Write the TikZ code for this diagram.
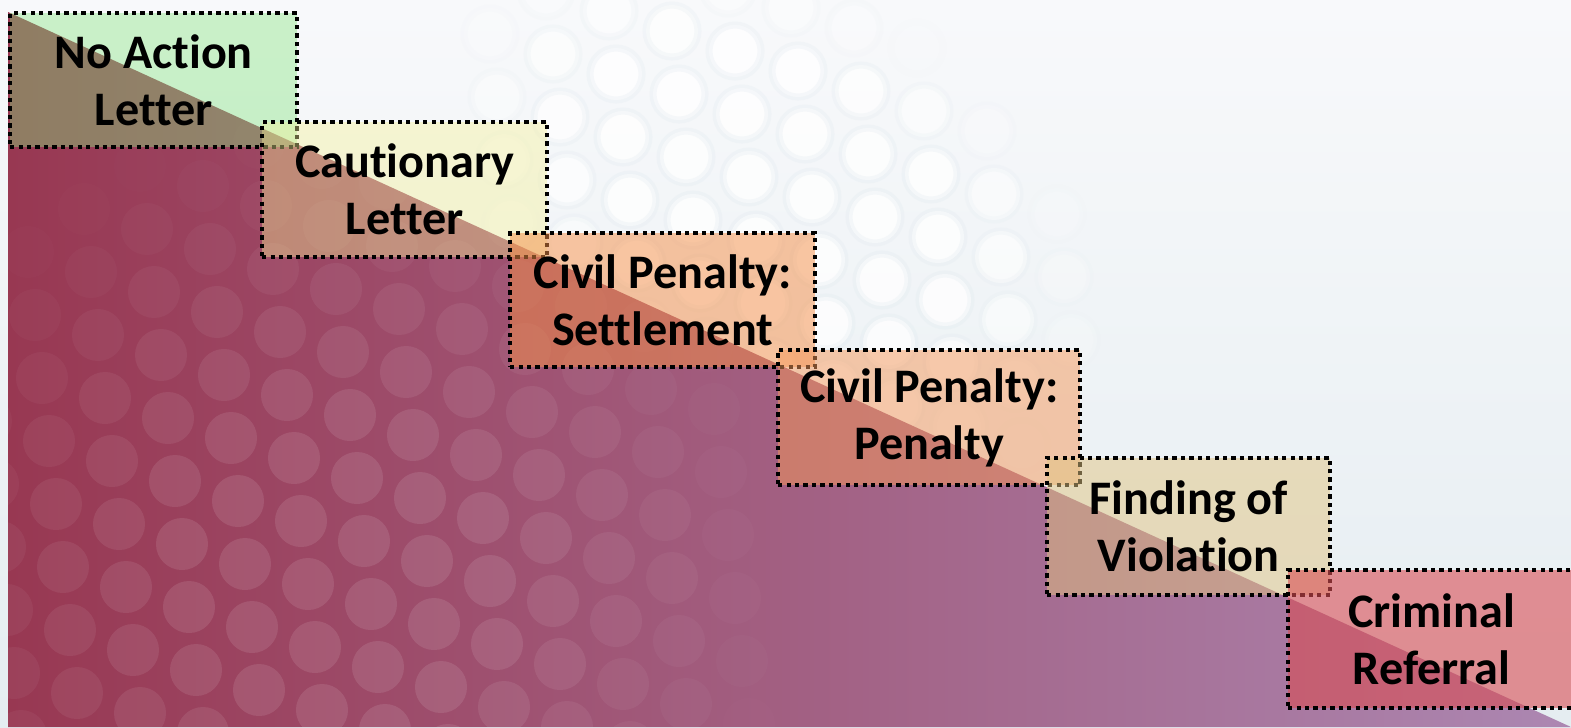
\documentclass[tikz,border=0pt]{standalone}
\usepackage{fontspec}
\setmainfont{Carlito}[Ligatures=NoCommon]
\definecolor{bgtop}{RGB}{248,249,251}
\definecolor{bgbot}{RGB}{229,237,241}
\definecolor{halo}{RGB}{222,232,238}
\definecolor{wedgeL}{RGB}{152,56,82}
\definecolor{wedgeM}{RGB}{155,90,128}
\definecolor{wedgeR}{RGB}{172,135,178}
\definecolor{mint}{RGB}{132,228,125}
\definecolor{lemon}{RGB}{245,240,150}
\definecolor{apricot}{RGB}{245,142,70}
\definecolor{peach}{RGB}{245,152,90}
\definecolor{sand}{RGB}{225,196,130}
\definecolor{rose}{RGB}{217,77,83}

\begin{document}
\begin{tikzpicture}[x=0.01cm, y=-0.01cm,
    stage/.style={draw, line width=1.2pt, dash pattern=on 1.2pt off 1.2pt,
      fill opacity=0.5, text opacity=1, anchor=north west, inner sep=0pt,
      minimum width=2.87cm, minimum height=1.34cm, align=center,
      font=\fontsize{13.7}{16.2}\selectfont\bfseries}]
  \useasboundingbox (0,0) rectangle (1571,727);
  \shade[top color=bgtop, bottom color=bgbot] (0,0) rectangle (1571,727);
  % dot lattice, light part
  \foreach \i in {-4,...,24}
    \foreach \j in {-12,...,12}{
      \pgfmathsetmacro\cx{63*\i+7*\j}
      \pgfmathsetmacro\cy{20*\i+63*\j}
      \pgfmathsetmacro\du{(0.857*(\cx-770)+0.514*(\cy-200))/370}
      \pgfmathsetmacro\dv{(-0.514*(\cx-770)+0.857*(\cy-200))/220}
      \pgfmathsetmacro\op{max(0,min(0.8,2*(1-veclen(\du,\dv))))}
      \pgfmathsetmacro\rim{0.3*\op}
      \ifdim\op pt>0pt
        \fill[white, opacity=\op, draw=halo, draw opacity=\rim, line width=2pt]
          (\cx,\cy) circle (0.26cm);
      \fi
    }
  % the wedge
  \shade[left color=wedgeL, middle color=wedgeM, right color=wedgeR]
    (8,12) -- (1571,727) -- (8,727) -- cycle;
  \begin{scope}
    \clip (8,12) -- (1571,727) -- (8,727) -- cycle;
    \foreach \i in {-4,...,24}
      \foreach \j in {-12,...,12}{
        \pgfmathsetmacro\cx{63*\i+7*\j}
        \pgfmathsetmacro\cy{20*\i+63*\j}
        \pgfmathsetmacro\op{max(0,0.1*min(1,1.5*(1-veclen(\cx-330,\cy-580)/480)))}
        \ifdim\op pt>0pt \fill[white, opacity=\op] (\cx,\cy) circle (0.26cm); \fi
      }
  \end{scope}

  \node[stage, fill=mint, fill opacity=0.4] (noaction) at (8,11) {No Action\\Letter};
  \node[stage, fill=lemon, fill opacity=0.4, minimum width=2.85cm, minimum height=1.35cm] (caution) at (260,120) {Cautionary\\Letter};
  \node[stage, fill=apricot, minimum width=3.05cm] (settle) at (508,231) {Civil Penalty:\\Settlement};
  \node[stage, fill=peach, minimum width=3.02cm, minimum height=1.35cm] (penalty) at (776,348) {Civil Penalty:\\Penalty};
  \node[stage, fill=sand, minimum width=2.83cm, minimum height=1.37cm] (finding) at (1045,456) {Finding of\\Violation};
  \node[stage, fill=rose, fill opacity=0.6, minimum height=1.38cm] (referral) at (1286,568) {Criminal\\Referral};
\end{tikzpicture}
\end{document}
